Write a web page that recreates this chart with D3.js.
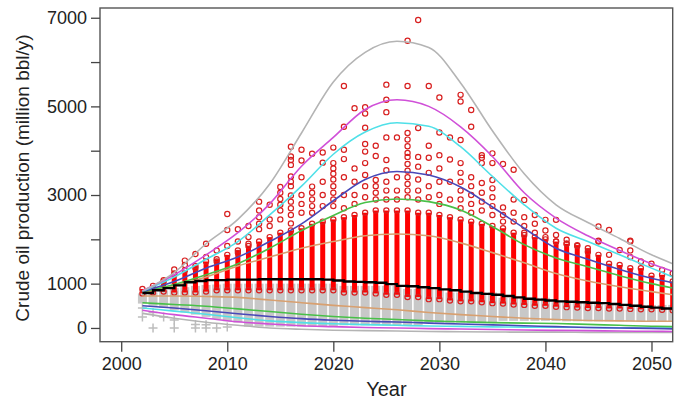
<!DOCTYPE html>
<html>
<head>
<meta charset="utf-8">
<script src="https://cdn.jsdelivr.net/npm/d3@7"></script>
<style>
body { margin: 0; background: #fff; }
text { font-family: "Liberation Sans", Arial, sans-serif; fill: #222; }
</style>
</head>
<body>
<div id="chart"></div>
<script>
// Years with a scenario column
var years = d3.range(2002, 2053);

// Dense red column (low / high) per year
var redLo = [780,800,820,800,800,800,820,850,850,850,850,850,850,850,850,850,850,850,850,800,
             800,800,780,750,750,700,700,650,650,620,600,600,580,560,550,530,520,500,500,480,
             470,460,450,450,440,440,430,420,420,410,400];
var redHi = [880,950,1050,1200,1300,1400,1500,1550,1650,1750,1850,1950,2050,2150,2200,2250,2350,2400,2450,2500,
             2550,2600,2650,2650,2650,2650,2600,2600,2550,2500,2450,2400,2350,2300,2250,2150,2100,2050,2000,1950,
             1900,1870,1800,1650,1450,1420,1350,1350,1180,1200,1050];

// Dense grey column (low / high) per year
var greyLo = [550,500,450,400,350,300,250,200,150,120,30,30,30,30,30,30,30,30,30,60,
              60,60,60,60,60,60,60,120,120,120,120,120,120,120,160,160,160,160,160,160,
              150,150,150,150,150,150,150,150,150,150,150];
var greyHi = [780,800,850,900,920,950,970,980,1000,1000,1000,1000,1000,1000,1000,1000,1000,1000,1000,950,
              950,950,950,950,950,880,880,880,880,800,800,800,800,800,680,680,680,680,680,580,
              580,580,580,580,520,520,520,520,520,520,520];

// Median-like step line (black)
var blackLine = [790,850,900,960,1030,1060,1080,1080,1090,1090,1090,1100,1100,1100,1100,1100,1100,1090,1070,1050,
                 1040,1030,1020,990,950,940,920,900,870,850,820,790,770,750,720,690,660,640,620,600,
                 590,580,570,560,540,520,500,480,460,440,430];

// Sparse red circles [year, value]
var redPts = [
  [2004,1080],[2005,1230],[2005,1320],[2006,1420],[2006,1520],[2007,1350],[2007,1670],[2008,1900],[2008,1600],
  [2009,1500],[2009,1750],[2010,1850],[2010,2210],[2010,2570],[2011,1690],[2011,2230],[2011,1950],[2012,2300],
  [2012,2050],[2012,1900],[2013,2850],[2013,2650],[2013,2500],[2013,2350],[2013,2230],[2014,2780],[2014,2450],
  [2014,2300],[2015,3180],[2015,3050],[2015,2910],[2015,2780],[2015,2650],[2015,2450],
  [2016,4090],[2016,3870],[2016,3790],[2016,3680],[2016,3420],[2016,3300],[2016,3200],[2016,2990],[2016,2850],
  [2016,2700],[2016,2550],[2016,2360],[2017,4020],[2017,3780],[2017,3400],[2017,3000],[2017,2800],[2017,2600],
  [2018,3930],[2018,3190],[2018,3050],[2018,2900],[2018,2750],[2018,2600],[2019,3960],[2019,3730],[2019,3300],
  [2019,3000],[2019,2750],[2020,4070],[2020,3720],[2020,3600],[2020,3480],[2020,3350],[2020,3200],[2020,3050],
  [2020,2900],[2020,2750],[2021,5460],[2021,4540],[2021,4020],[2021,3810],[2021,3400],[2021,3000],[2021,2700],
  [2022,4960],[2022,3600],[2022,3300],[2022,3000],[2022,2800],[2023,4980],[2023,4840],[2023,4520],[2023,4150],
  [2023,3980],[2023,3720],[2023,3450],[2023,3200],[2023,2950],[2024,4110],[2024,3880],[2024,3340],[2024,3200],
  [2024,3050],[2024,2900],[2025,5490],[2025,5150],[2025,4870],[2025,4300],[2025,3790],[2025,3560],[2025,3300],
  [2025,3100],[2025,2900],[2026,4300],[2026,3400],[2026,3100],[2026,2900],[2027,6480],[2027,5460],[2027,4400],
  [2027,4250],[2027,4100],[2027,3950],[2027,3860],[2027,3700],[2027,3550],[2027,3400],[2027,3250],[2027,3100],
  [2027,2950],[2028,6950],[2028,4510],[2028,3860],[2028,3640],[2028,3350],[2028,3100],[2028,2900],[2029,5460],
  [2029,4110],[2029,3840],[2029,3500],[2029,3200],[2029,2950],[2030,5200],[2030,4410],[2030,3900],[2030,3600],
  [2030,3300],[2030,3000],[2030,2800],[2031,4300],[2031,3800],[2031,3300],[2031,2900],[2032,5260],[2032,5110],
  [2032,4240],[2032,3720],[2032,3500],[2032,3300],[2032,3100],[2032,2900],[2032,2700],[2033,4920],[2033,4540],
  [2033,3400],[2033,3200],[2033,3000],[2033,2800],[2033,2600],[2034,3900],[2034,3840],[2034,3720],[2034,3270],
  [2034,3050],[2034,2850],[2034,2650],[2035,3940],[2035,3720],[2035,3340],[2035,3150],[2035,2950],[2035,2750],
  [2035,2550],[2036,3700],[2036,2720],[2036,2550],[2036,2400],[2037,3570],[2037,2900],[2037,2600],[2037,2400],
  [2038,2890],[2038,2500],[2038,2300],[2038,2150],[2039,2550],[2039,2350],[2039,2150],[2040,2440],[2040,2200],
  [2040,2050],[2041,2440],[2041,2100],[2041,1950],[2042,1990],[2042,1900],[2043,1850],[2044,1720],[2045,2290],
  [2045,1970],[2045,1950],[2046,2210],[2046,1650],[2047,1760],[2048,1970],[2048,1950],[2048,1750],[2048,1600],
  [2049,1500],[2050,1450],[2051,1310],[2052,1230]
];

// Sparse grey plus marks [year, value]
var greyPts = [[2002,250],[2002,450],[2003,0],[2003,350],[2004,250],[2005,180],[2005,0],[2007,0],[2007,80],
               [2008,0],[2008,70],[2009,0],[2010,20]];

// Smooth scenario curves, sampled every 3 years
var curveYears = [2002,2005,2008,2011,2014,2017,2020,2023,2026,2029,2032,2035,2038,2041,2044,2047,2050,2052];
var greyHigh    = [830,1250,1900,2450,3250,4400,5550,6220,6470,6330,5530,4450,3480,2780,2380,2020,1650,1450];
var magentaHigh = [840,1200,1650,2150,2800,3650,4300,4930,5150,5000,4540,3870,3050,2480,2080,1750,1450,1280];
var cyanHigh    = [830,1150,1550,1950,2550,3200,3920,4420,4630,4550,4090,3420,2780,2250,1950,1650,1350,1150];
var blueHigh    = [820,1050,1350,1600,1950,2350,2870,3350,3530,3450,3180,2730,2250,1800,1550,1320,1120,1020];
var greenHigh   = [810,980,1200,1450,1800,2200,2540,2830,2910,2850,2660,2290,1880,1580,1380,1180,1000,900];
var orangeHigh  = [800,950,1150,1400,1600,1800,1950,2080,2120,2080,1920,1700,1470,1230,1060,930,820,750];
var orangeLow   = [720,720,710,690,630,570,510,460,410,350,300,260,220,190,170,160,150,150];
var greenLow    = [570,530,490,430,370,310,260,220,190,160,140,120,110,100,80,60,40,30];
var blueLow     = [500,450,390,320,260,210,175,150,135,110,90,70,50,30,10,0,-10,-20];
var cyanLow     = [450,380,310,230,160,120,95,75,60,45,35,25,20,15,10,5,0,0];
var magentaLow  = [400,300,220,140,90,50,30,10,0,-15,-25,-35,-45,-55,-60,-70,-75,-80];
var greyLow     = [330,220,130,60,0,-30,-50,-60,-70,-80,-85,-90,-95,-95,-100,-100,-100,-100];

var yTicks = [0,1000,2000,3000,4000,5000,6000,7000];
var yLabels = [0,1000,3000,5000,7000];
var xTicks = [2000,2010,2020,2030,2040,2050];

var width = 690, height = 404;
var plot = {left: 100, right: 672.7, top: 8, bottom: 341.7};

var svg = d3.select("#chart").append("svg")
    .attr("width", width)
    .attr("height", height);

var x = d3.scaleLinear().domain([1998, 2052]).range([plot.left, plot.right]);
var y = d3.scaleLinear().domain([-310, 7220]).range([plot.bottom, plot.top]);

svg.append("clipPath").attr("id", "clip")
  .append("rect")
    .attr("x", plot.left).attr("y", plot.top)
    .attr("width", plot.right - plot.left).attr("height", plot.bottom - plot.top);

var g = svg.append("g").attr("clip-path", "url(#clip)");

// grey dense columns
g.selectAll(".gcol").data(years).enter().append("rect")
    .attr("x", function(d) { return x(d) - 4.5; })
    .attr("width", 9)
    .attr("y", function(d, i) { return y(greyHi[i]); })
    .attr("height", function(d, i) { return y(greyLo[i]) - y(greyHi[i]); })
    .style("fill", "#c8c8c8");

// grey plus marks
g.selectAll(".gpt").data(greyPts).enter().append("path")
    .attr("d", "M-4.5,0H4.5M0,-4.5V4.5")
    .attr("transform", function(d) { return "translate(" + x(d[0]) + "," + y(d[1]) + ")"; })
    .style("stroke", "#bdbdbd")
    .style("stroke-width", 1.5)
    .style("fill", "none");

// red dense columns
g.selectAll(".rcol").data(years).enter().append("rect")
    .attr("x", function(d) { return x(d) - 2.5; })
    .attr("width", 5)
    .attr("y", function(d, i) { return y(redHi[i]); })
    .attr("height", function(d, i) { return y(redLo[i]) - y(redHi[i]); })
    .style("fill", "#ff0000");

// circles capping each dense column
var caps = [];
years.forEach(function(yr, i) { caps.push([yr, redHi[i]], [yr, redLo[i]]); });

// red open circles
g.selectAll(".rpt").data(redPts.concat(caps)).enter().append("circle")
    .attr("cx", function(d) { return x(d[0]); })
    .attr("cy", function(d) { return y(d[1]); })
    .attr("r", 2.6)
    .style("fill", "none")
    .style("stroke", "#d82020")
    .style("stroke-width", 1.2);

// scenario curves
var line = d3.line()
    .x(function(d) { return x(d[0]); })
    .y(function(d) { return y(d[1]); })
    .curve(d3.curveMonotoneX);

var curves = [
  {v: greyLow, c: "#b4b4b4"}, {v: magentaLow, c: "#d050d8"}, {v: cyanLow, c: "#50e0e8"},
  {v: blueLow, c: "#4848b8"}, {v: greenLow, c: "#48c048"}, {v: orangeLow, c: "#d8a070"},
  {v: orangeHigh, c: "#d8a070"}, {v: greenHigh, c: "#48c048"}, {v: blueHigh, c: "#4848b8"},
  {v: cyanHigh, c: "#50e0e8"}, {v: magentaHigh, c: "#d050d8"}, {v: greyHigh, c: "#b4b4b4"}
];

g.selectAll(".curve").data(curves).enter().append("path")
    .attr("d", function(d) { return line(curveYears.map(function(yr, i) { return [yr, d.v[i]]; })); })
    .style("fill", "none")
    .style("stroke", function(d) { return d.c; })
    .style("stroke-width", 1.6);

// black step line
var step = d3.line()
    .x(function(d) { return x(d[0]); })
    .y(function(d) { return y(d[1]); })
    .curve(d3.curveStepAfter);

g.append("path")
    .datum(years.map(function(yr, i) { return [yr, blackLine[i]]; }))
    .attr("d", step)
    .style("fill", "none")
    .style("stroke", "#000")
    .style("stroke-width", 2.4);

// frame
svg.append("rect")
    .attr("x", plot.left).attr("y", plot.top)
    .attr("width", plot.right - plot.left).attr("height", plot.bottom - plot.top)
    .style("fill", "none")
    .style("stroke", "#555")
    .style("stroke-width", 1.4);

// axes
var yAxis = d3.axisLeft(y).tickValues(yTicks).tickSize(9).tickPadding(4)
    .tickFormat(function(d) { return yLabels.indexOf(d) >= 0 ? d : ""; });
var xAxis = d3.axisBottom(x).tickValues(xTicks).tickSize(10).tickPadding(6)
    .tickFormat(d3.format("d"));

var ya = svg.append("g")
    .attr("transform", "translate(" + plot.left + ",0)")
    .call(yAxis);
var xa = svg.append("g")
    .attr("transform", "translate(0," + plot.bottom + ")")
    .call(xAxis);

[ya, xa].forEach(function(a) {
  a.select(".domain").remove();
  a.selectAll("line").style("stroke", "#444").style("stroke-width", 1.3);
  a.selectAll("text").style("font-size", "18px").style("fill", "#222")
    .style("font-family", "'Liberation Sans', Arial, sans-serif");
});

// titles
svg.append("text")
    .attr("x", (plot.left + plot.right) / 2)
    .attr("y", 396)
    .attr("text-anchor", "middle")
    .style("font-size", "20px")
    .text("Year");

svg.append("text")
    .attr("transform", "translate(28.5,178) rotate(-90)")
    .attr("text-anchor", "middle")
    .style("font-size", "19px")
    .text("Crude oil production (million bbl/y)");
</script>
</body>
</html>
